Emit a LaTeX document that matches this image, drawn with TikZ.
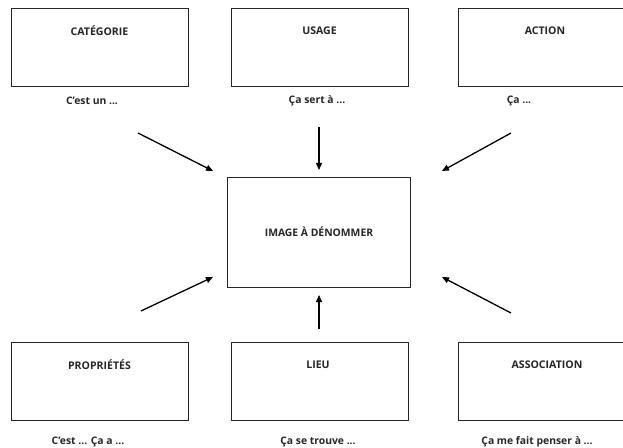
\documentclass[tikz,border=0pt]{standalone}
\usepackage{fontspec}
\setmainfont{Open Sans}
\usetikzlibrary{arrows.meta}
\begin{document}
\begin{tikzpicture}[x=1bp,y=-1bp,
  box/.style={draw=black!85,line width=0.8bp,rectangle,minimum width=177bp,minimum height=78bp,inner sep=0pt},
  title/.style={font=\fontsize{10.6}{12}\selectfont\bfseries,text=black!85,inner sep=0pt},
  caption/.style={font=\fontsize{10.4}{12}\selectfont\bfseries,text=black!85,inner sep=0pt},
  arr/.style={line width=1.3bp,-{Triangle[length=7bp,width=6bp]}}]
\useasboundingbox (0,0) rectangle (623,448);
\clip (0,0) rectangle (623,448);
% top row
\node[box] (cat) at (99.5,47) {};
\node[box] (usa) at (319.5,47) {};
\node[box] (act) at (546.5,47) {};
\node[title] (tcat) at (99.5,31) {CATÉGORIE};
\node[title] (tusa) at (319.5,31) {USAGE};
\node[title] (tact) at (545,31) {ACTION};
\node[caption] (ccat) at (92,101) {C’est un ...};
\node[caption] (cusa) at (317,101) {Ça sert à ...};
\node[caption] (cact) at (519,101) {Ça ...};
% bottom row
\node[box] (pro) at (99.5,381) {};
\node[box] (lie) at (319.5,381) {};
\node[box] (ass) at (546.5,381) {};
\node[title] (tpro) at (99.5,365) {PROPRIÉTÉS};
\node[title] (tlie) at (318,365) {LIEU};
\node[title] (tass) at (547,365) {ASSOCIATION};
\node[caption] (cpro) at (88,442) {C’est ... Ça a ...};
\node[caption] (clie) at (318,442) {Ça se trouve ...};
\node[caption] (cass) at (537,442) {Ça me fait penser à ...};
% centre
\node[draw=black!85,line width=0.8bp,minimum width=183bp,minimum height=110bp,inner sep=0pt] (img) at (319.2,232) {};
\node[title,font=\fontsize{10.4}{12}\selectfont\bfseries] (timg) at (319,232) {IMAGE À DÉNOMMER};
% arrow ends
\coordinate (a1s) at (138,133); \coordinate (a1e) at (213,171);
\coordinate (a2s) at (319,127); \coordinate (a2e) at (319,170);
\coordinate (a3s) at (511,133); \coordinate (a3e) at (442,171);
\coordinate (a4s) at (141,311); \coordinate (a4e) at (213,277);
\coordinate (a5s) at (319,329); \coordinate (a5e) at (319,295);
\coordinate (a6s) at (511,313); \coordinate (a6e) at (442,277);
\draw[arr] (a1s) -- (a1e);
\draw[arr] (a2s) -- (a2e);
\draw[arr] (a3s) -- (a3e);
\draw[arr] (a4s) -- (a4e);
\draw[arr] (a5s) -- (a5e);
\draw[arr] (a6s) -- (a6e);
\end{tikzpicture}
\end{document}
